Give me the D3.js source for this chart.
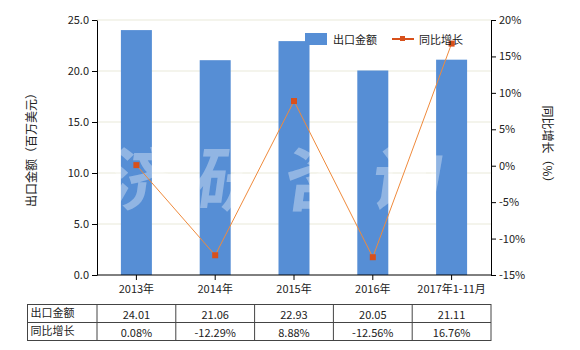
<!DOCTYPE html>
<html><head><meta charset="utf-8">
<script src="https://cdn.jsdelivr.net/npm/d3@7"></script>
<style>body{margin:0;background:#fff}svg{font-family:"Noto Sans CJK SC","Noto Sans",sans-serif}</style>
</head><body><svg id="c" width="580" height="350"></svg>
<script>
const categories = ["2013年","2014年","2015年","2016年","2017年1-11月"];
const exportValues = [24.01,21.06,22.93,20.05,21.11];
const growthValues = [0.08,-12.29,8.88,-12.56,16.76];
const leftTicks = [0,5,10,15,20,25];
const rightTicks = [-15,-10,-5,0,5,10,15,20];
const seriesNames = ["出口金额","同比增长"];

const svg = d3.select("#c");
const L=97,R=491,T=20,B=275;
const x = d3.scaleBand().domain(categories).range([L,R]).paddingInner(0.6).paddingOuter(0.3);
const xb = d3.scaleBand().domain(categories).range([L,R]);
const yL = d3.scaleLinear().domain([0,25]).range([B,T]);
const yR = d3.scaleLinear().domain([-15,20]).range([B,T]);

// gridlines
svg.append("g").selectAll("line").data(leftTicks.slice(1)).join("line")
  .attr("x1",L).attr("x2",R).attr("y1",d=>yL(d)).attr("y2",d=>yL(d))
  .attr("stroke","#e9e9d9").attr("stroke-width",1);

// bars
svg.append("g").selectAll("rect").data(exportValues).join("rect")
  .attr("x",(d,i)=>xb(categories[i])+xb.bandwidth()/2-15.5).attr("width",31)
  .attr("y",d=>yL(d)).attr("height",d=>B-yL(d)).attr("fill","#568ed5");

// watermark
svg.append("text").attr("x",285).attr("y",205).attr("text-anchor","middle")
  .attr("font-size",70).attr("font-weight","bold").attr("fill","#ffffff").attr("opacity",0.35)
  .attr("letter-spacing",18).attr("transform","skewX(-8) translate(25,0)")
  .text("济研咨询");

// line
const line = d3.line().x((d,i)=>xb(categories[i])+xb.bandwidth()/2).y(d=>yR(d));
svg.append("path").datum(growthValues).attr("d",line).attr("fill","none")
  .attr("stroke","#ef8a3c").attr("stroke-width",1);
svg.append("g").selectAll("rect").data(growthValues).join("rect")
  .attr("x",(d,i)=>xb(categories[i])+xb.bandwidth()/2-3).attr("y",d=>yR(d)-3)
  .attr("width",6).attr("height",6).attr("fill","#d8501b");

// axes
const fmt = d3.format(".1f");
const gl = svg.append("g").attr("transform",`translate(${L},0)`)
  .call(d3.axisLeft(yL).tickValues(leftTicks).tickFormat(fmt).tickSize(5).tickSizeOuter(0));
const gr = svg.append("g").attr("transform",`translate(${R},0)`)
  .call(d3.axisRight(yR).tickValues(rightTicks).tickFormat(d=>d+"%").tickSize(5).tickSizeOuter(0));
const gb = svg.append("g").attr("transform",`translate(0,${B})`)
  .call(d3.axisBottom(xb).tickSize(5).tickSizeOuter(0));
[gl,gr,gb].forEach(g=>{
  g.selectAll("path,line").attr("stroke","#000");
  g.selectAll("text").attr("font-size",11).attr("fill","#222").attr("font-family","\"Noto Sans CJK SC\",sans-serif");
});
gb.select(".domain").attr("d",`M${L},0H${R}`);
gb.selectAll("text").attr("dy","0.9em");

// axis titles
svg.append("text").attr("transform","translate(36,147) rotate(-90)").attr("text-anchor","middle")
  .attr("font-size",12).attr("fill","#222").text("出口金额（百万美元）");
svg.append("text").attr("transform","translate(543,147) rotate(90)").attr("text-anchor","middle")
  .attr("font-size",12).attr("fill","#222").text("同比增长（%）");

// legend
svg.append("rect").attr("x",305).attr("y",33).attr("width",22).attr("height",12).attr("fill","#568ed5");
svg.append("text").attr("x",333).attr("y",44).attr("font-size",11).attr("fill","#222").text(seriesNames[0]);
svg.append("line").attr("x1",392).attr("x2",414).attr("y1",39).attr("y2",39).attr("stroke","#d8501b").attr("stroke-width",2);
svg.append("rect").attr("x",400).attr("y",36).attr("width",5).attr("height",5).attr("fill","#d8501b");
svg.append("text").attr("x",419).attr("y",44).attr("font-size",11).attr("fill","#222").text(seriesNames[1]);

// table
const tT=304.5, tM=322.5, tB=340.5, tL=27.5;
const tg = svg.append("g");
const cols = [tL, ...categories.map(c=>xb(c)), R];
tg.append("rect").attr("x",tL).attr("y",tT).attr("width",R-tL).attr("height",tB-tT).attr("fill","none").attr("stroke","#444");
tg.append("line").attr("x1",tL).attr("x2",R).attr("y1",tM).attr("y2",tM).attr("stroke","#444");
tg.selectAll("line.v").data(categories).join("line").attr("class","v")
  .attr("x1",d=>xb(d)).attr("x2",d=>xb(d)).attr("y1",tT).attr("y2",tB).attr("stroke","#444");
const rows = [[seriesNames[0], exportValues.map(v=>v.toFixed(2))],[seriesNames[1], growthValues.map(v=>v.toFixed(2)+"%")]];
rows.forEach((r,ri)=>{
  const yy = (ri===0? tT:tM) + 13;
  tg.append("text").attr("x",tL+3).attr("y",yy-1).attr("font-size",11).attr("fill","#222").text(r[0]);
  tg.selectAll(null).data(r[1]).join("text").attr("x",(d,i)=>xb(categories[i])+xb.bandwidth()/2)
    .attr("y",yy+1).attr("text-anchor","middle").attr("font-size",11).attr("fill","#222").text(d=>d);
});
</script></body></html>
